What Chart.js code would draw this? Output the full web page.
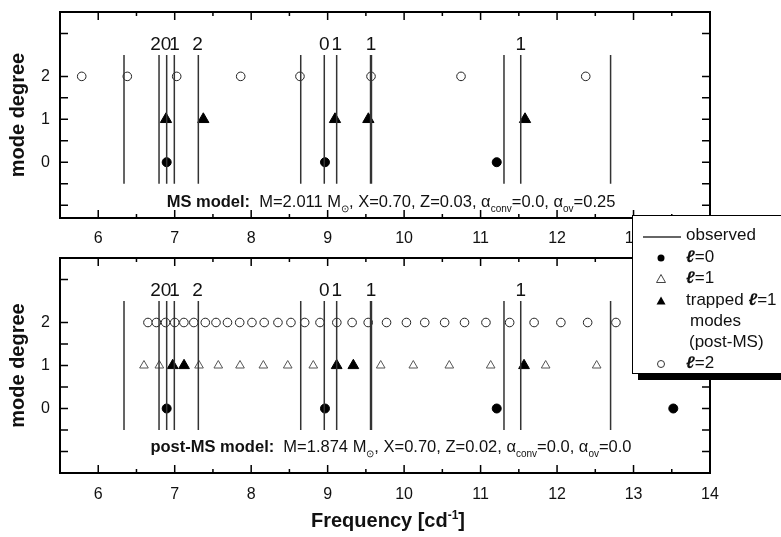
<!DOCTYPE html>
<html>
<head>
<meta charset="utf-8">
<script src="https://cdn.jsdelivr.net/npm/chart.js@4.4.0/dist/chart.umd.min.js"></script>
<style>
body { margin:0; background:#fff; width:781px; height:537px; overflow:hidden; position:relative; font-family:"Liberation Sans", Arial, sans-serif; }
canvas { position:absolute; left:0; }
#legend { position:absolute; left:632px; top:215px; width:170px; height:157px; background:#fff; border:1.5px solid #000; box-shadow:6px 6px 0 #000; }
#legend .row { position:absolute; left:53px; height:20px; line-height:20px; font-size:17px; color:#111; white-space:nowrap; }
#legend svg { position:absolute; }
#legend i { font-weight:bold; }
</style>
</head>
<body>
<canvas id="topChart" width="781" height="250" style="top:0"></canvas>
<canvas id="bottomChart" width="781" height="287" style="top:250px"></canvas>

<div id="legend">
  <svg style="left:8px;top:19px" width="42" height="4"><line x1="2" y1="2" x2="40" y2="2" stroke="#333" stroke-width="1.5"/></svg>
  <div class="row" style="top:9px">observed</div>
  <svg style="left:22px;top:36px" width="12" height="12"><circle cx="6" cy="6" r="3.5" fill="#000"/></svg>
  <div class="row" style="top:31px"><i>ℓ</i>=0</div>
  <svg style="left:22px;top:57px" width="12" height="12"><polygon points="6,1.5 10.5,9.5 1.5,9.5" fill="#fff" stroke="#444" stroke-width="1"/></svg>
  <div class="row" style="top:52px"><i>ℓ</i>=1</div>
  <svg style="left:22px;top:79px" width="12" height="12"><polygon points="6,1.5 10.5,9.5 1.5,9.5" fill="#000"/></svg>
  <div class="row" style="top:74px">trapped <i>ℓ</i>=1</div>
  <div class="row" style="top:95px;left:57px">modes</div>
  <div class="row" style="top:116px;left:56px">(post-MS)</div>
  <svg style="left:22px;top:142px" width="12" height="12"><circle cx="6" cy="6" r="3.5" fill="#fff" stroke="#333" stroke-width="1"/></svg>
  <div class="row" style="top:137px"><i>ℓ</i>=2</div>
</div>

<script>
// observed frequencies (vertical lines), c/d
var observed = [6.337, 6.795, 6.895, 6.995, 7.309, 8.648, 8.956, 9.118, 9.561, 9.573, 11.306, 11.525, 12.70];
// mode degree written above some of the observed lines (x where the digit sits)
var labelFreq = [6.75, 6.885, 6.998, 7.30, 8.956, 9.118, 9.567, 11.525];
var labelDeg = ["2", "0", "1", "2", "0", "1", "1", "1"];

// MS model frequencies
var msL0 = [6.895, 8.965, 11.211];
var msL1 = [6.886, 7.374, 9.096, 9.532, 11.581];
var msL2 = [5.784, 6.380, 7.026, 7.863, 8.638, 9.567, 10.744, 12.375];

// post-MS model frequencies
var postL0 = [6.895, 8.965, 11.211, 13.52];
var postL1 = [6.598, 6.799, 7.318, 7.570, 7.854, 8.159, 8.478, 8.812, 9.694, 10.120, 10.591, 11.132, 11.851, 12.518];
var postL1trapped = [6.974, 7.122, 9.118, 9.336, 11.568];
var postL2 = [6.65, 6.76, 6.88, 7.00, 7.12, 7.25, 7.40, 7.54, 7.69, 7.85, 8.01, 8.17, 8.35, 8.52, 8.70,
              8.90, 9.12, 9.32, 9.53, 9.77, 10.03, 10.27, 10.53, 10.79, 11.07, 11.38, 11.70, 12.05, 12.40, 12.77];

var xTickLabels = [6, 7, 8, 9, 10, 11, 12, 13, 14];
var yTickLabels = [0, 1, 2];
var yTickMarks = [3, 2, 1.5, 1, 0.5, 0, -0.5, -1];

var FONT = '"Liberation Sans", Arial, sans-serif';

function atDegree(freqs, deg) {
  return freqs.map(function (f) { return { x: f, y: deg }; });
}

function observedLines() {
  var pts = [];
  for (var i = 0; i < observed.length; i++) {
    pts.push({ x: observed[i], y: -0.5 });
    pts.push({ x: observed[i], y: 2.5 });
    pts.push({ x: observed[i], y: null });
  }
  return pts;
}

// draws a string made of pieces (bold / subscript / superscript), centred on cx
function drawPieces(ctx, pieces, cx, y, size) {
  var total = 0;
  pieces.forEach(function (p) {
    p.fs = (p.sub || p.sup) ? Math.round(size * 0.6) : size;
    ctx.font = (p.b ? "bold " : "") + p.fs + "px " + FONT;
    p.w = ctx.measureText(p.t).width;
    total += p.w;
  });
  var x = cx - total / 2;
  ctx.textAlign = "left";
  ctx.textBaseline = "alphabetic";
  pieces.forEach(function (p) {
    ctx.font = (p.b ? "bold " : "") + p.fs + "px " + FONT;
    var dy = p.sub ? size * 0.3 : (p.sup ? -size * 0.42 : 0);
    ctx.fillText(p.t, x, y + dy);
    x += p.w;
  });
}

function panelPlugin(modelText, textValue, extra) {
  return {
    id: "panel",
    afterDatasetsDraw: function (chart) {
      var ctx = chart.ctx;
      var a = chart.chartArea;
      var xs = chart.scales.x, ys = chart.scales.y;
      ctx.save();
      ctx.strokeStyle = "#000";
      ctx.lineWidth = 2;
      ctx.strokeRect(a.left, a.top, a.right - a.left, a.bottom - a.top);
      ctx.lineWidth = 1.5;
      ctx.beginPath();
      // x ticks pointing inward, on top and bottom edges
      for (var v = 6; v <= 13.5; v += 0.5) {
        var px = xs.getPixelForValue(v);
        var len = (v % 1 === 0) ? 8 : 4;
        ctx.moveTo(px, a.bottom); ctx.lineTo(px, a.bottom - len);
        ctx.moveTo(px, a.top); ctx.lineTo(px, a.top + len);
      }
      yTickMarks.forEach(function (t) {
        var py = ys.getPixelForValue(t);
        ctx.moveTo(a.left, py); ctx.lineTo(a.left + 8, py);
        ctx.moveTo(a.right, py); ctx.lineTo(a.right - 8, py);
      });
      ctx.stroke();

      // mode degree labels above observed lines
      ctx.fillStyle = "#111";
      ctx.font = "19px " + FONT;
      ctx.textAlign = "center";
      ctx.textBaseline = "middle";
      for (var i = 0; i < labelFreq.length; i++) {
        ctx.fillText(labelDeg[i], xs.getPixelForValue(labelFreq[i]), ys.getPixelForValue(2.73));
      }

      drawPieces(ctx, modelText, (a.left + a.right) / 2 + 6, ys.getPixelForValue(textValue) + 5, 16.5);
      if (extra) extra(chart);
      ctx.restore();
    }
  };
}

function pointSet(data, style, radius, fill, stroke) {
  return {
    data: data, pointStyle: style, pointRadius: radius, pointHoverRadius: radius,
    pointBackgroundColor: fill, pointBorderColor: stroke, pointBorderWidth: 1, showLine: false
  };
}

function makePanel(id, datasets, padTop, axisHeight, labelPad, plugin) {
  var lines = {
    data: observedLines(), showLine: true, spanGaps: false, pointRadius: 0,
    borderColor: "#333", borderWidth: 1.5, order: 0
  };
  datasets.forEach(function (d) { d.order = 1; });
  return new Chart(document.getElementById(id), {
    type: "scatter",
    data: { datasets: [lines].concat(datasets) },
    options: {
      responsive: false,
      animation: false,
      layout: { padding: { top: padTop, right: 71, left: 0, bottom: 0 } },
      plugins: { legend: { display: false }, tooltip: { enabled: false } },
      scales: {
        x: {
          type: "linear", min: 5.5, max: 14,
          grid: { display: false, drawTicks: false }, border: { display: false },
          afterBuildTicks: function (s) { s.ticks = xTickLabels.map(function (v) { return { value: v }; }); },
          afterFit: function (s) { s.height = axisHeight; s.paddingLeft = 0; s.paddingRight = 0; },
          ticks: { padding: labelPad, color: "#111", font: { size: 16, family: FONT }, maxRotation: 0, autoSkip: false }
        },
        y: {
          type: "linear", min: id === "topChart" ? -1.3 : -1.5, max: 3.5,
          grid: { display: false, drawTicks: false }, border: { display: false },
          afterBuildTicks: function (s) { s.ticks = yTickLabels.map(function (v) { return { value: v }; }); },
          afterFit: function (s) { s.width = 60; s.paddingTop = 0; s.paddingBottom = 0; },
          ticks: { padding: 10, color: "#111", font: { size: 16, family: FONT } },
          title: { display: true, text: "mode degree", color: "#111", font: { size: 20, weight: "bold", family: FONT }, padding: { top: 6, bottom: 0 } }
        }
      }
    },
    plugins: [plugin]
  });
}

var msText = [
  { t: "MS model:", b: 1 }, { t: "  M=2.011 M" }, { t: "\u2299", sub: 1 },
  { t: ", X=0.70, Z=0.03, \u03b1" }, { t: "conv", sub: 1 }, { t: "=0.0, \u03b1" }, { t: "ov", sub: 1 }, { t: "=0.25" }
];
var postText = [
  { t: "post-MS model:", b: 1 }, { t: "  M=1.874 M" }, { t: "\u2299", sub: 1 },
  { t: ", X=0.70, Z=0.02, \u03b1" }, { t: "conv", sub: 1 }, { t: "=0.0, \u03b1" }, { t: "ov", sub: 1 }, { t: "=0.0" }
];

makePanel("topChart", [
  pointSet(atDegree(msL2, 2), "circle", 4.3, "#fff", "#222"),
  pointSet(atDegree(msL1, 1), "triangle", 6.5, "#000", "#000"),
  pointSet(atDegree(msL0, 0), "circle", 4.5, "#000", "#000")
], 12, 32, 11, panelPlugin(msText, -0.92));

makePanel("bottomChart", [
  pointSet(atDegree(postL2, 2), "circle", 4.3, "#fff", "#222"),
  pointSet(atDegree(postL1, 1), "triangle", 5, "#fff", "#555"),
  pointSet(atDegree(postL1trapped, 1), "triangle", 6.2, "#000", "#000"),
  pointSet(atDegree(postL0, 0), "circle", 4.5, "#000", "#000")
], 8, 64, 12, panelPlugin(postText, -0.89, function (chart) {
  var ctx = chart.ctx;
  ctx.fillStyle = "#111";
  drawPieces(ctx, [
    { t: "Frequency [cd", b: 1 }, { t: "-1", b: 1, sup: 1 }, { t: "]", b: 1 }
  ], 388, 277, 20);
}));
</script>
</body>
</html>
